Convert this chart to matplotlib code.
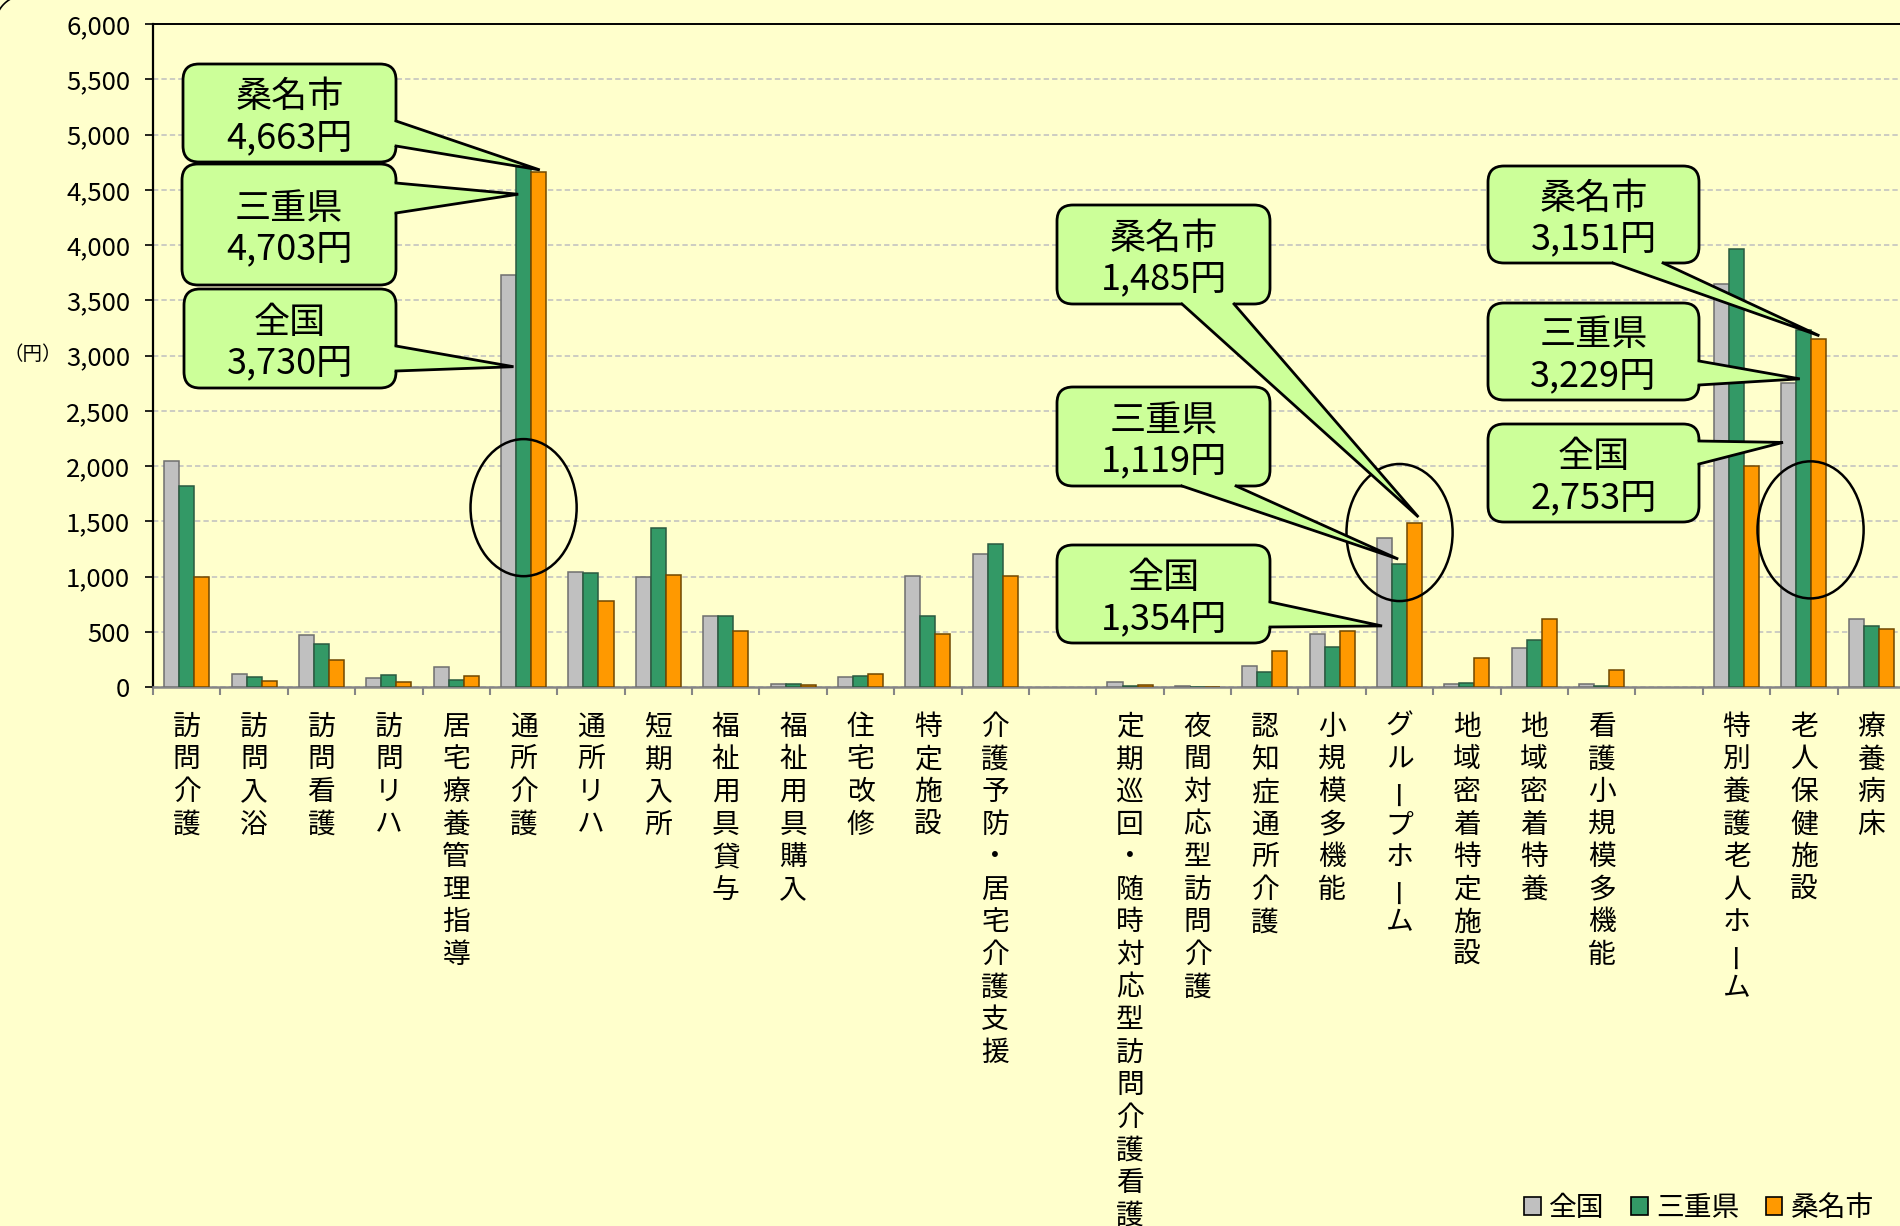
"""Care-service cost per insured person: 全国 / 三重県 / 桑名市 grouped bars with callouts."""
import numpy as np
import matplotlib
matplotlib.use("Agg")
import matplotlib.pyplot as plt
import matplotlib.transforms as mtransforms
from matplotlib.patches import FancyBboxPatch, Ellipse, Polygon, Patch
from matplotlib.lines import Line2D
from matplotlib.ticker import FuncFormatter, MultipleLocator, FixedLocator, NullLocator

plt.rcParams['font.family'] = ['Noto Sans CJK JP', 'DejaVu Sans']

# --- data -------------------------------------------------------------------
categories = [
    "訪問介護", "訪問入浴", "訪問看護", "訪問リハ", "居宅療養管理指導",
    "通所介護", "通所リハ", "短期入所", "福祉用具貸与", "福祉用具購入",
    "住宅改修", "特定施設", "介護予防・居宅介護支援", "",
    "定期巡回・随時対応型訪問介護看護", "夜間対応型訪問介護", "認知症通所介護",
    "小規模多機能", "グループホーム", "地域密着特定施設", "地域密着特養",
    "看護小規模多機能", "", "特別養護老人ホーム", "老人保健施設", "療養病床",
]
series_names = ["全国", "三重県", "桑名市"]
nan = np.nan
zenkoku = [2050, 120, 470, 81, 181, 3730, 1043, 995, 643, 27, 93, 1010, 1204, nan,
           48, 9, 193, 480, 1354, 27, 356, 27, nan, 3652, 2753, 615]
mie = [1820, 93, 389, 109, 66, 4703, 1037, 1444, 643, 27, 105, 643, 1297, nan,
       9, 2, 136, 365, 1119, 40, 428, 15, nan, 3969, 3229, 552]
kuwana = [995, 54, 247, 45, 102, 4663, 778, 1019, 507, 18, 123, 480, 1005, nan,
          18, 0, 329, 507, 1485, 265, 618, 153, nan, 1999, 3151, 530]
series = [zenkoku, mie, kuwana]

# callouts: (category, series index, box px (x0, y0, x1, y1), base px pair, tip dx, tip value)
callouts = [
    (5, 2, (183, 64, 396, 162), ((396, 121), (396, 146)), 0.24, 4680),
    (5, 1, (182, 164, 396, 285), ((396, 183), (396, 213)), -0.08, 4460),
    (5, 0, (184, 289, 396, 388), ((396, 346), (396, 371)), -0.15, 2900),
    (18, 2, (1057, 205, 1270, 304), ((1182, 304), (1234, 304)), 0.28, 1540),
    (18, 1, (1057, 387, 1270, 486), ((1182, 486), (1236, 486)), -0.02, 1160),
    (18, 0, (1057, 545, 1270, 643), ((1270, 602), (1270, 627)), -0.26, 555),
    (24, 2, (1488, 166, 1699, 263), ((1613, 263), (1663, 263)), 0.23, 3180),
    (24, 1, (1488, 303, 1699, 400), ((1699, 361), (1699, 385)), -0.06, 2790),
    (24, 0, (1488, 424, 1699, 522), ((1699, 441), (1699, 464)), -0.31, 2215),
]
ellipse_cats = [5, 18, 24.1]
ellipse_vals = [1625, 1400, 1424]

# --- style --------------------------------------------------------------------
BG = "#FFFFCC"
CALLOUT = "#CCFF99"
colors = ["#C0C0C0", "#339966", "#FF9900"]
edges = ["#6F6F6F", "#2A5A40", "#704800"]
BW = 0.223

W, H, DPI = 1900, 1226, 100
fig = plt.figure(figsize=(W / DPI, H / DPI), dpi=DPI, facecolor=BG)
# pixel space, y pointing down, origin at the top-left corner
px = mtransforms.Affine2D().scale(1 / DPI, -1 / DPI).translate(0, H / DPI) + fig.dpi_scale_trans

ax = fig.add_axes([153 / W, 1 - 687.3 / H, (1904.9 - 153) / W, (687.3 - 24) / H])
ax.set_facecolor(BG)

x = np.arange(len(categories))
for i, vals in enumerate(series):
    ax.bar(x + (i - 1) * BW, np.array(vals, dtype=float), width=BW,
           color=colors[i], edgecolor=edges[i], linewidth=1.1, zorder=3)

ax.set_xlim(-0.5, len(categories) - 0.5)
ax.set_ylim(0, 6000)

# y axis
ax.yaxis.set_major_locator(MultipleLocator(500))
ax.yaxis.set_major_formatter(FuncFormatter(lambda v, p: f"{int(v):,}"))
ax.tick_params(axis="y", direction="out", length=5.8, width=1.2, color="black",
               labelsize=18.5, pad=10.5)
ax.yaxis.grid(True, color="#BFBFBF", linestyle=(0, (3.5, 2)), linewidth=1.1, zorder=0)
ax.set_axisbelow(True)

# x axis: ticks only at category boundaries
ax.xaxis.set_major_locator(NullLocator())
ax.xaxis.set_minor_locator(FixedLocator(np.arange(len(categories) + 1) - 0.5))
ax.tick_params(axis="x", which="minor", direction="out", length=5.8, width=1.5,
               color="#868686")

ax.spines["left"].set_color("black")
ax.spines["left"].set_linewidth(1.6)
ax.spines["top"].set_color("black")
ax.spines["top"].set_linewidth(1.4)
ax.spines["bottom"].set_color("#868686")
ax.spines["bottom"].set_linewidth(1.8)
ax.spines["right"].set_visible(False)

# vertical category labels, one character per line
for k, name in enumerate(categories):
    for i, ch in enumerate(name):
        tr = mtransforms.offset_copy(ax.get_xaxis_transform(), fig=fig,
                                     x=0, y=-(39.5 + 32.6 * i), units="dots")
        ax.text(k, 0, ch, transform=tr, ha="center", va="center", fontsize=20,
                rotation=90 if ch == "ー" else 0, clip_on=False)

# circles around the highlighted groups
for cx, cy in zip(ellipse_cats, ellipse_vals):
    ax.add_patch(Ellipse((cx, cy), 1.575, 1240, fill=False, ec="black", lw=1.8, zorder=6))

# callouts
for cat, si, (x0, y0, x1, y1), (b1, b2), dx, ty in callouts:
    disp = ax.transData.transform((cat + dx, ty))
    tip = px.inverted().transform(disp)
    box = FancyBboxPatch((x0, y0), x1 - x0, y1 - y0,
                         boxstyle="round,pad=0,rounding_size=16", transform=px,
                         fc=CALLOUT, ec="black", lw=2, zorder=10)
    fig.add_artist(box)
    if b1[0] == x1 and b2[0] == x1:
        inward = np.array([-4, 0])
    else:
        inward = np.array([0, -4])
    b1 = np.array(b1, dtype=float)
    b2 = np.array(b2, dtype=float)
    fig.add_artist(Polygon([b1 + inward, b1, tip, b2, b2 + inward], closed=True,
                           transform=px, fc=CALLOUT, ec="none", zorder=11))
    fig.add_artist(Line2D([b1[0], tip[0], b2[0]], [b1[1], tip[1], b2[1]], transform=px,
                          color="black", lw=2, solid_joinstyle="miter", zorder=12))
    cxp, cyp = (x0 + x1) / 2, (y0 + y1) / 2
    fig.text(cxp, cyp - 16, series_names[si], transform=px, ha="center", va="center",
             fontsize=26, zorder=13)
    fig.text(cxp, cyp + 25, f"{int(series[si][cat]):,}円", transform=px, ha="center",
             va="center", fontsize=26, zorder=13)

# unit label
fig.text(33, 355, "（円）", transform=px, ha="center", va="center", fontsize=14)

# legend
handles = [Patch(fc=c, ec="black", lw=1.2) for c in colors]
fig.legend(handles, series_names, loc="center right",
           bbox_to_anchor=(1874 / W, 1 - 1208 / H), ncol=3, frameon=False, fontsize=20,
           handlelength=0.6, handleheight=0.6, handletextpad=0.3, columnspacing=0.95,
           borderaxespad=0, borderpad=0)

# rounded corner of the chart-area frame (only the top-left one shows)
theta = np.linspace(np.pi, 1.5 * np.pi, 30)
fig.add_artist(Line2D(25.2 + 30 * np.cos(theta), 25.2 + 30 * np.sin(theta), transform=px,
                      color="black", lw=1.2, zorder=1))

fig.savefig("out.png", dpi=DPI, facecolor=BG)
